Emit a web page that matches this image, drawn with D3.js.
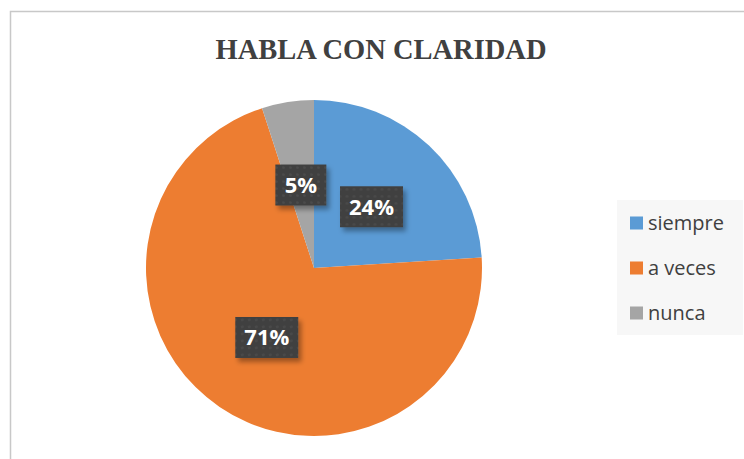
<!DOCTYPE html>
<html><head><meta charset="utf-8">
<script src="https://cdn.jsdelivr.net/npm/d3@7"></script>
<style>html,body{margin:0;padding:0;background:#fff;}</style>
</head><body>
<svg id="c" width="744" height="459"></svg>
<script>
const categories = ["siempre", "a veces", "nunca"];
const values = [24, 71, 5];
const labels = ["24%", "71%", "5%"];
const colors = ["#5B9BD5", "#ED7D31", "#A5A5A5"];

const svg = d3.select("#c");
const defs = svg.append("defs");
const f = defs.append("filter").attr("id","sh").attr("x","-20%").attr("y","-20%").attr("width","150%").attr("height","160%");
f.append("feDropShadow").attr("dx",3).attr("dy",4).attr("stdDeviation",2.5).attr("flood-color","#000").attr("flood-opacity",0.35);
const pat = defs.append("pattern").attr("id","dots").attr("width",7).attr("height",7).attr("patternUnits","userSpaceOnUse");
pat.append("rect").attr("width",7).attr("height",7).attr("fill","#404040");
pat.append("circle").attr("cx",3.5).attr("cy",3.5).attr("r",1.3).attr("fill","#4c4c4c");

// chart frame
svg.append("rect").attr("x",10.5).attr("y",11.5).attr("width",760).attr("height",470)
  .attr("fill","#fff").attr("stroke","#c8c8c8").attr("stroke-width",1.5);

svg.append("text").attr("x",381).attr("y",59).attr("text-anchor","middle")
  .attr("font-family","'Liberation Serif','Times New Roman',serif").attr("font-weight","bold")
  .attr("font-size",28.5).attr("fill","#404040").text("HABLA CON CLARIDAD");

const cx = 314, cy = 268, r = 168;
const pie = d3.pie().sort(null).value(d => d)(values);
const arc = d3.arc().innerRadius(0).outerRadius(r);
const labelArc = d3.arc().innerRadius(r*0.5).outerRadius(r*0.5);
const g = svg.append("g").attr("transform",`translate(${cx},${cy})`);
g.selectAll("path").data(pie).join("path").attr("d",arc).attr("fill",(d,i)=>colors[i]);

const lg = g.selectAll("g.lab").data(pie).join("g").attr("class","lab")
  .attr("transform", d => { const [x,y]=labelArc.centroid(d); return `translate(${x},${y})`; });
lg.each(function(d,i){
  const s = d3.select(this);
  const w = labels[i].length === 2 ? 51 : 63;
  s.append("rect").attr("x",-w/2).attr("y",-20.5).attr("width",w).attr("height",41)
    .attr("fill","url(#dots)").attr("filter","url(#sh)");
  s.append("text").attr("text-anchor","middle").attr("y",8)
    .attr("font-family","'Open Sans','Noto Sans',sans-serif").attr("font-weight","bold")
    .attr("font-size",22).attr("fill","#fff").text(labels[i]);
});

// legend
svg.append("rect").attr("x",617).attr("y",200).attr("width",126).attr("height",135).attr("fill","#f7f7f7");
const leg = svg.selectAll("g.leg").data(categories).join("g").attr("class","leg")
  .attr("transform",(d,i)=>`translate(630,${223 + i*45})`);
leg.append("rect").attr("x",0).attr("y",-6.5).attr("width",13).attr("height",13).attr("fill",(d,i)=>colors[i]);
leg.append("text").attr("x",18).attr("y",7).attr("font-family","'Open Sans','Noto Sans',sans-serif")
  .attr("font-size",20).attr("fill","#404040").text(d=>d);
</script>
</body></html>
